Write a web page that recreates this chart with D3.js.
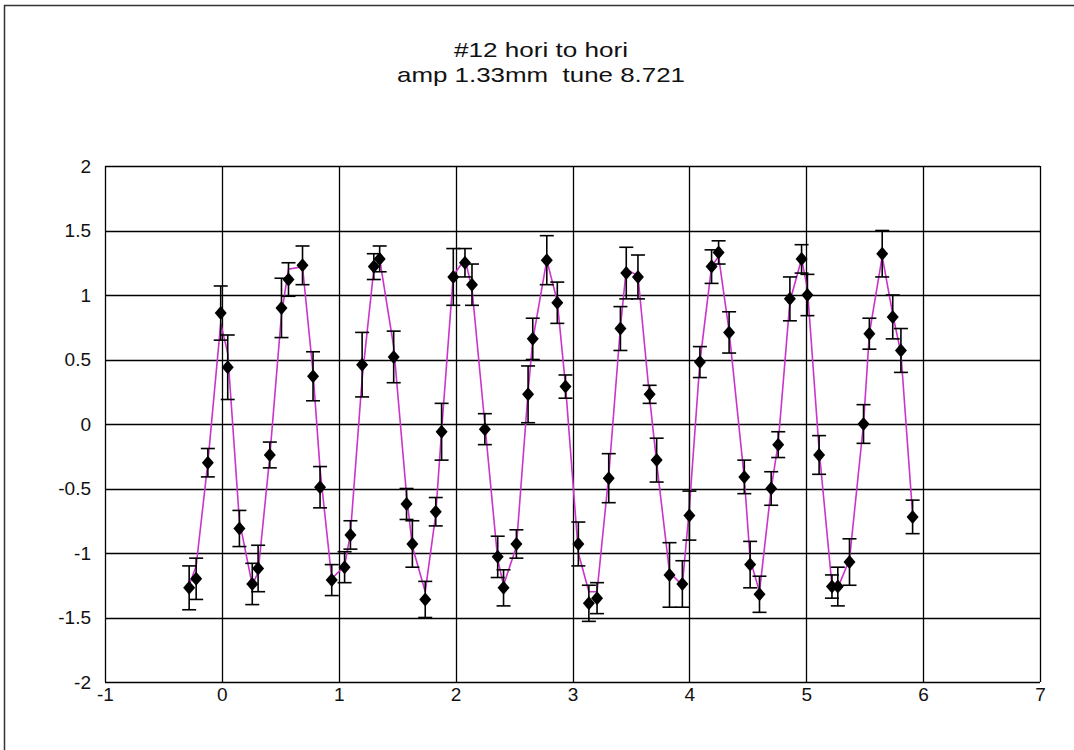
<!DOCTYPE html>
<html><head><meta charset="utf-8">
<script src="https://cdn.jsdelivr.net/npm/d3@7"></script>
<style>
html,body{margin:0;padding:0;background:#fff;}
svg text{font-family:"Liberation Sans",Arial,sans-serif;fill:#111;}
</style></head>
<body>
<svg id="chart" width="1074" height="750"></svg>
<script>
const titleLines = ["#12 hori to hori", "amp 1.33mm\u00a0\u00a0tune 8.721"];
const titleWidths = [174, 288];
const xTicks = [-1,0,1,2,3,4,5,6,7];
const xTickLabels = ["-1","0","1","2","3","4","5","6","7"];
const yTicks = [-2,-1.5,-1,-0.5,0,0.5,1,1.5,2];
const yTickLabels = ["-2","-1.5","-1","-0.5","0","0.5","1","1.5","2"];

const xs = [-0.28,-0.22,-0.12,-0.01,0.05,0.15,0.26,0.31,0.41,0.51,0.57,0.69,0.78,0.84,0.94,1.05,1.10,1.20,
  1.30,1.35,1.47,1.58,1.63,1.74,1.83,1.88,1.98,2.08,2.14,2.25,2.36,2.41,2.52,2.62,2.66,2.78,2.87,2.94,
  3.05,3.14,3.21,3.31,3.41,3.46,3.56,3.66,3.72,3.83,3.94,4.00,4.09,4.19,4.25,4.34,4.47,4.52,4.60,4.70,
  4.76,4.86,4.96,5.01,5.11,5.22,5.27,5.37,5.49,5.54,5.65,5.74,5.81,5.91];
const ys = [-1.27,-1.20,-0.30,0.86,0.44,-0.81,-1.24,-1.12,-0.24,0.90,1.12,1.23,0.37,-0.49,-1.21,-1.11,-0.86,0.46,
  1.22,1.28,0.52,-0.62,-0.93,-1.36,-0.68,-0.06,1.14,1.25,1.08,-0.04,-1.03,-1.27,-0.93,0.23,0.66,1.27,0.94,0.29,
  -0.93,-1.39,-1.35,-0.42,0.74,1.17,1.14,0.23,-0.28,-1.17,-1.24,-0.71,0.48,1.22,1.33,0.71,-0.41,-1.09,-1.32,-0.50,
  -0.16,0.97,1.28,1.00,-0.24,-1.26,-1.26,-1.07,0.00,0.70,1.32,0.83,0.57,-0.72];
const errs = [0.17,0.16,0.11,0.21,0.25,0.14,0.16,0.18,0.10,0.23,0.13,0.15,0.19,0.16,0.12,0.12,0.11,0.25,
  0.10,0.10,0.20,0.12,0.18,0.14,0.11,0.22,0.22,0.11,0.16,0.12,0.16,0.14,0.11,0.22,0.16,0.19,0.16,0.09,
  0.17,0.14,0.12,0.19,0.17,0.20,0.17,0.07,0.17,0.25,0.18,0.19,0.12,0.13,0.09,0.16,0.13,0.18,0.14,0.13,
  0.10,0.17,0.11,0.16,0.15,0.09,0.15,0.18,0.15,0.12,0.18,0.17,0.17,0.13];
const fitYs = [-1.25,-1.10,-0.30,0.78,0.55,-0.75,-1.25,-1.15,-0.25,0.85,1.20,1.22,0.40,-0.35,-1.20,-1.10,-0.85,0.35,
  1.20,1.28,0.60,-0.55,-0.95,-1.30,-0.70,-0.05,1.15,1.28,1.05,0.00,-1.05,-1.25,-0.95,0.25,0.65,1.27,0.95,0.30,
  -1.00,-1.30,-1.30,-0.40,0.75,1.20,1.15,0.20,-0.30,-1.15,-1.25,-0.65,0.48,1.22,1.30,0.72,-0.42,-1.05,-1.30,-0.50,
  -0.15,0.95,1.28,1.05,-0.20,-1.25,-1.27,-1.05,0.00,0.70,1.30,0.85,0.55,-0.70];

const svg = d3.select("#chart");
const x = d3.scaleLinear().domain([-1,7]).range([105,1040]);
const y = d3.scaleLinear().domain([-2,2]).range([682,166]);

// outer frame
svg.append("path").attr("d","M4.5,750 L4.5,5.5 L1074,5.5").attr("fill","none").attr("stroke","#333").attr("stroke-width",1.5);

// title
svg.selectAll("text.title").data(titleLines).enter().append("text")
  .attr("class","title").attr("x",541).attr("y",(d,i)=>57+i*25)
  .attr("text-anchor","middle").attr("font-size",21)
  .attr("textLength",(d,i)=>titleWidths[i]).attr("lengthAdjust","spacingAndGlyphs")
  .text(d=>d);

// gridlines
const g = svg.append("g");
g.selectAll("line.gy").data(yTicks).enter().append("line")
  .attr("x1",x(-1)).attr("x2",x(7)).attr("y1",d=>Math.round(y(d))+0.5).attr("y2",d=>Math.round(y(d))+0.5)
  .attr("stroke","#000").attr("stroke-width",1.3);
g.selectAll("line.gx").data(xTicks).enter().append("line")
  .attr("y1",y(2)).attr("y2",y(-2)).attr("x1",d=>Math.round(x(d))+0.5).attr("x2",d=>Math.round(x(d))+0.5)
  .attr("stroke","#000").attr("stroke-width",1.3);

// axes labels via d3 axes
const yAxis = d3.axisLeft(y).tickValues(yTicks).tickFormat((d,i)=>yTickLabels[i]).tickSize(0).tickPadding(14);
const ya = svg.append("g").attr("transform",`translate(${x(-1)},0)`).call(yAxis);
ya.select(".domain").remove();
ya.selectAll("text").attr("font-size",19).attr("font-family",null).style("fill","#111");
const xAxis = d3.axisBottom(x).tickValues(xTicks).tickFormat((d,i)=>xTickLabels[i]).tickSize(0).tickPadding(6);
const xa = svg.append("g").attr("transform",`translate(0,${y(-2)})`).call(xAxis);
xa.select(".domain").remove();
xa.selectAll("text").attr("font-size",19).attr("font-family",null).style("fill","#111");

const pts = xs.map((v,i)=>({x:v,y:ys[i],e:errs[i],f:fitYs[i]}));

// fit line
svg.append("path").datum(pts)
  .attr("d", d3.line().x(d=>x(d.x)).y(d=>y(d.f)))
  .attr("fill","none").attr("stroke","#cc33cc").attr("stroke-width",1.6);

// error bars
const eb = svg.append("g").attr("stroke","#000").attr("stroke-width",1.6);
pts.forEach(d=>{
  const cx = x(d.x), t = y(d.y+d.e), b = y(d.y-d.e);
  eb.append("line").attr("x1",cx).attr("x2",cx).attr("y1",t).attr("y2",b);
  eb.append("line").attr("x1",cx-7).attr("x2",cx+7).attr("y1",t).attr("y2",t);
  eb.append("line").attr("x1",cx-7).attr("x2",cx+7).attr("y1",b).attr("y2",b);
});

// markers
svg.append("g").selectAll("path").data(pts).enter().append("path")
  .attr("transform",d=>`translate(${x(d.x)},${y(d.y)})`)
  .attr("d","M0,-7 L6,0 L0,7 L-6,0 Z").attr("fill","#000");
</script>
</body></html>
